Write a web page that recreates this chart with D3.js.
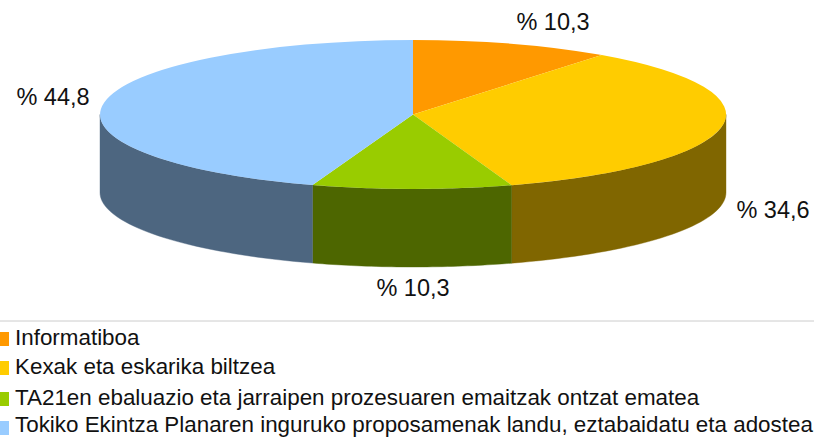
<!DOCTYPE html>
<html><head><meta charset="utf-8">
<script src="https://cdn.jsdelivr.net/npm/d3@7"></script>
<style>html,body{margin:0;padding:0;background:#fff}svg{display:block}text{font-family:"Liberation Sans",Arial,sans-serif;fill:#111}</style>
</head><body><svg id="c" width="814" height="437"></svg>
<script>
const categories = ["Informatiboa","Kexak eta eskarika biltzea","TA21en ebaluazio eta jarraipen prozesuaren emaitzak ontzat ematea","Tokiko Ekintza Planaren inguruko proposamenak landu, eztabaidatu eta adostea"];
const values = [10.3,34.6,10.3,44.8];
const valueLabels = ["% 10,3","% 34,6","% 10,3","% 44,8"];
const topColors = ["#ff9900","#ffcc00","#99cc00","#99ccff"];
const sideColors = ["#805000","#806600","#4d6600","#4d6680"];

const cx=413, cy=114.5, rx=313, ry=74.5, depth=78;
const svg=d3.select("#c");
const pie=d3.pie().sort(null)(values);
const pt=(a,dy=0)=>[cx+rx*Math.sin(a), cy-ry*Math.cos(a)+dy];

const lo=Math.PI/2, hi=3*Math.PI/2;
pie.forEach((p,i)=>{
  const a0=Math.max(p.startAngle,lo), a1=Math.min(p.endAngle,hi);
  if(a1<=a0) return;
  const n=40, top=d3.range(n+1).map(k=>pt(a0+(a1-a0)*k/n));
  const bot=top.slice().reverse().map(q=>[q[0],q[1]+depth]);
  svg.append("path").attr("d",d3.line()(top.concat(bot))+"Z")
     .attr("fill",sideColors[i]).attr("stroke",sideColors[i]).attr("stroke-width",0.4);
});
const arc=d3.arc().innerRadius(0).outerRadius(1);
const gTop=svg.append("g").attr("transform",`translate(${cx},${cy}) scale(${rx},${ry})`);
pie.forEach((p,i)=>{
  gTop.append("path").attr("d",arc(p)).attr("fill",topColors[i]);
});
const labelPos=[[553,23],[773,211],[413,289],[53,98]];
valueLabels.forEach((t,i)=>{
  svg.append("text").attr("x",labelPos[i][0]).attr("y",labelPos[i][1]+7)
     .attr("text-anchor","middle").attr("font-size",23.5).text(t);
});
svg.append("line").attr("x1",0).attr("x2",814).attr("y1",321).attr("y2",321).attr("stroke","#cccccc");
const legendY=d3.scaleOrdinal().domain(categories).range([345,374,405,432]);
categories.forEach((c,i)=>{
  const y=legendY(c);
  svg.append("rect").attr("x",0).attr("y",i===3?421:y-13).attr("width",9).attr("height",14).attr("fill",topColors[i]);
  svg.append("text").attr("x",15).attr("y",y).attr("font-size",22.4).text(c);
});
</script></body></html>
